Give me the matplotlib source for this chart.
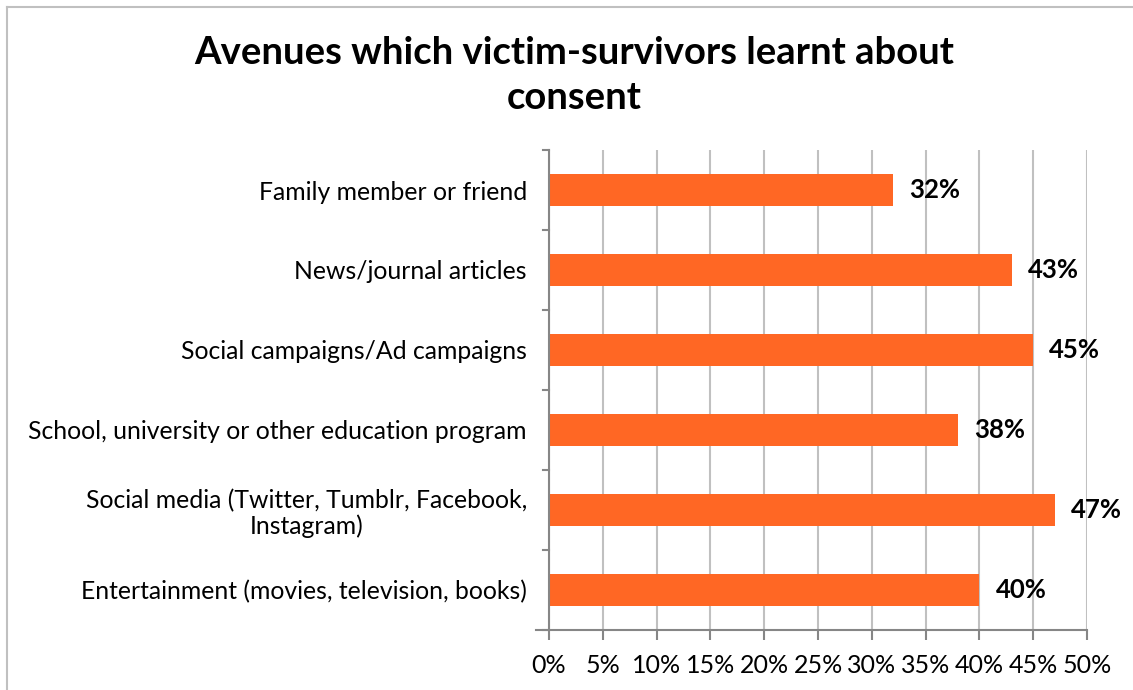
import matplotlib
matplotlib.use("Agg")
import matplotlib.pyplot as plt
from matplotlib.lines import Line2D

plt.rcParams['font.family'] = ['Lato', 'DejaVu Sans']

# survey categories, top to bottom
categories = [
    'Family member or friend',
    'News/journal articles',
    'Social campaigns/Ad campaigns',
    'School, university or other education program',
    'Social media (Twitter, Tumblr, Facebook,\nInstagram)',
    'Entertainment (movies, television, books)',
]
values = [32, 43, 45, 38, 47, 40]
xticks = [0, 5, 10, 15, 20, 25, 30, 35, 40, 45, 50]

bar_color = '#FF6724'
grid_color = '#C0C0C0'
axis_color = '#868686'

fig = plt.figure(figsize=(11.33, 6.9), dpi=100)
ax = fig.add_axes([0.4846, 0.087, 0.4748, 0.6956])

ypos = list(range(len(categories)))[::-1]
ax.barh(ypos, values, height=0.4, color=bar_color, zorder=3)

for y, v in zip(ypos, values):
    ax.text(v + 1.5, y, f'{v}%', va='center', ha='left',
            fontsize=18.5, fontweight='bold', color='black')

ax.set_xlim(0, 50)
ax.set_ylim(-0.5, len(categories) - 0.5)
ax.set_xticks(xticks)
ax.set_xticklabels([f'{t}%' for t in xticks], fontsize=18)
ax.set_yticks(ypos)
ax.set_yticklabels(categories, fontsize=17.8, multialignment='center',
                   linespacing=1.15)
ax.tick_params(axis='y', length=0, pad=16)
ax.tick_params(axis='x', length=7, width=1.5, color=axis_color, pad=10)

# category separator ticks on the left spine
for b in [i - 0.5 for i in range(len(categories) + 1)]:
    ax.plot([-0.012, 0], [b, b], transform=ax.get_yaxis_transform(),
            color=axis_color, lw=1.5, clip_on=False, zorder=4)

ax.grid(axis='x', color=grid_color, lw=1.5, zorder=0)
ax.set_axisbelow(True)
for side in ['top', 'right']:
    ax.spines[side].set_visible(False)
ax.spines['left'].set_color(axis_color)
ax.spines['left'].set_linewidth(1.5)
ax.spines['left'].set_zorder(5)
ax.spines['bottom'].set_color(axis_color)
ax.spines['bottom'].set_linewidth(1.5)
ax.spines['bottom'].set_bounds(-1.2, 50)

fig.text(0.5066, 0.948, 'Avenues which victim-survivors learnt about\nconsent',
         ha='center', va='top', fontsize=27.5, fontweight='bold',
         linespacing=1.4)

# chart border
fig.add_artist(Line2D([0.006, 1.0], [0.99, 0.99], color=grid_color, lw=1.5))
fig.add_artist(Line2D([0.006, 0.006], [0.0, 0.99], color=grid_color, lw=1.5))

fig.savefig('out.png', dpi=100)
